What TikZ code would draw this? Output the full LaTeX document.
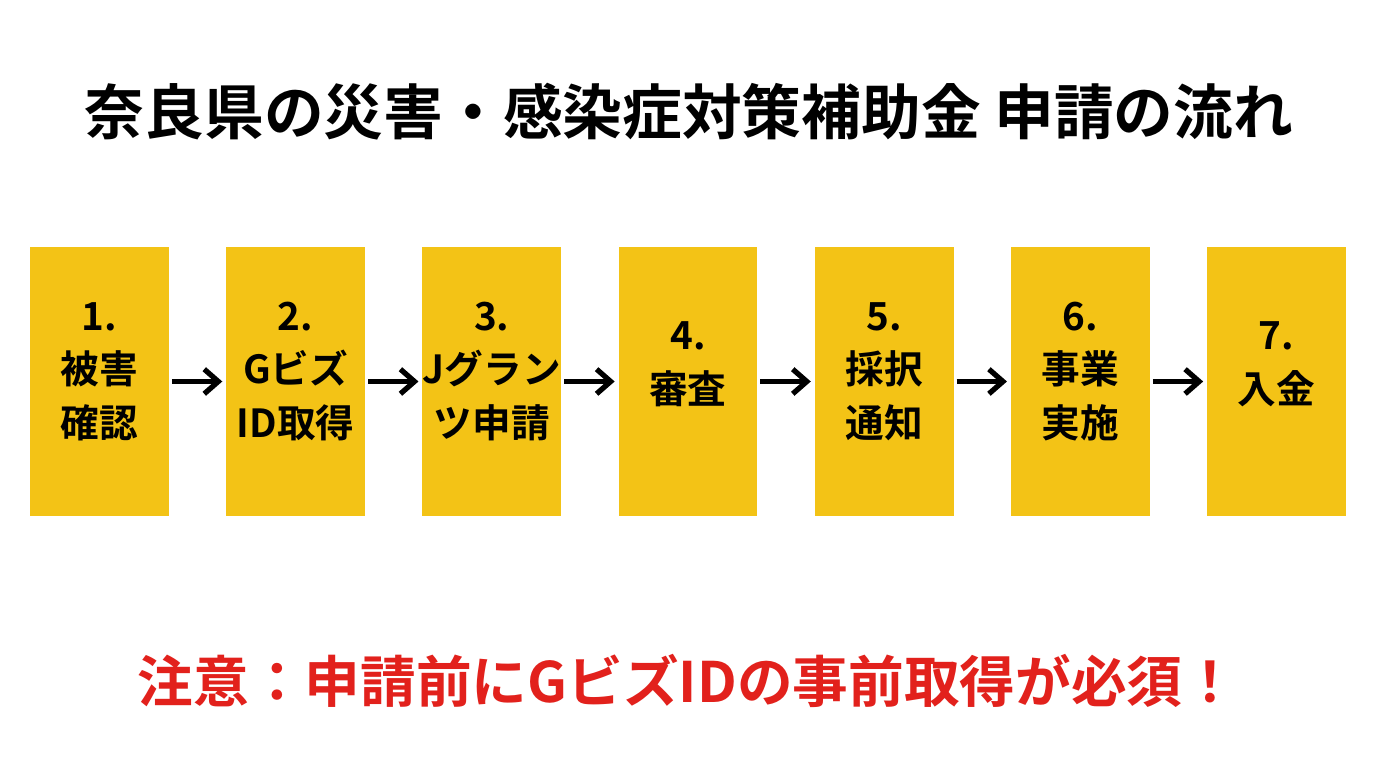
\documentclass[tikz,border=0pt]{standalone}
\usepackage{fontspec}
\setmainfont{Noto Sans CJK JP}[BoldFont=* Bold]
\usepackage{xcolor}
\usepackage{tikz}
\usetikzlibrary{arrows.meta,positioning}

\definecolor{stepyellow}{HTML}{F3C316}
\definecolor{noteRed}{HTML}{E2211C}

\begin{document}
\begin{tikzpicture}[x=0.02cm,y=0.02cm,
  stepbox/.style={fill=stepyellow,minimum width=2.78cm,minimum height=5.38cm,inner sep=0pt},
  steptext/.style={font=\bfseries\fontsize{22}{30.5}\selectfont,align=center},
  flow/.style={-{Straight Barb[length=8pt,width=14pt]},line width=3pt,shorten <=1.5pt,shorten >=2pt}]
  \useasboundingbox[fill=white] (0,0) rectangle (1376,768);
  % title
  \node[font=\bfseries\fontsize{34}{38}\selectfont] (title) at (689,656) {奈良県の災害・感染症対策補助金 申請の流れ};
  % steps
  \node[stepbox] (b1) at (99.5,386.5) {};
  \node[stepbox,right=1.13cm of b1] (b2) {};
  \node[stepbox,right=1.13cm of b2] (b3) {};
  \node[stepbox,right=1.13cm of b3] (b4) {};
  \node[stepbox,right=1.13cm of b4] (b5) {};
  \node[stepbox,right=1.13cm of b5] (b6) {};
  \node[stepbox,right=1.13cm of b6] (b7) {};
  \node[steptext] (t1) at ([yshift=0.2cm]b1.center) {1.\\被害\\確認};
  \node[steptext] (t2) at ([yshift=0.2cm]b2.center) {2.\\Gビズ\\ID取得};
  \node[steptext] (t3) at ([yshift=0.2cm]b3.center) {3.\\Jグラン\\ツ申請};
  \node[steptext] (t4) at ([yshift=0.35cm]b4.center) {4.\\審査};
  \node[steptext] (t5) at ([yshift=0.2cm]b5.center) {5.\\採択\\通知};
  \node[steptext] (t6) at ([yshift=0.2cm]b6.center) {6.\\事業\\実施};
  \node[steptext] (t7) at ([yshift=0.35cm]b7.center) {7.\\入金};
  \draw[flow] (b1) -- (b2);
  \draw[flow] (b2) -- (b3);
  \draw[flow] (b3) -- (b4);
  \draw[flow] (b4) -- (b5);
  \draw[flow] (b5) -- (b6);
  \draw[flow] (b6) -- (b7);
  % note
  \node[font=\bfseries\fontsize{31.7}{35}\selectfont,text=noteRed] (note) at (688,87) {注意：申請前にGビズIDの事前取得が必須！};
\end{tikzpicture}
\end{document}
